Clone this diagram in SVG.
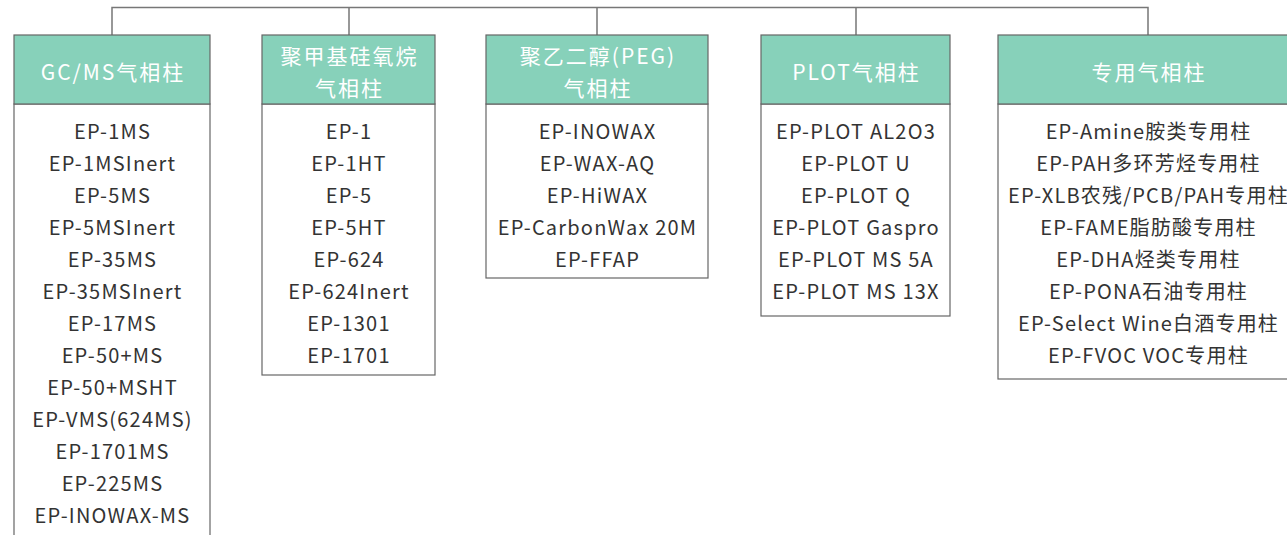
<svg xmlns="http://www.w3.org/2000/svg" width="1287" height="535" viewBox="0 0 1287 535">
<style>
.hd{fill:#87d1ba;stroke:#666;stroke-width:1.2}
.bd{fill:#fff;stroke:#666;stroke-width:1.2}
.ht{font-family:"Noto Sans CJK SC","Noto Sans",sans-serif;font-size:21px;letter-spacing:2px;fill:#fff;text-anchor:middle;dominant-baseline:central}
.it{font-family:"Noto Sans CJK SC","Noto Sans",sans-serif;font-size:20px;letter-spacing:1.2px;fill:#333;text-anchor:middle;dominant-baseline:central}
.cn{fill:none;stroke:#777;stroke-width:1.5}
</style>
<rect width="1287" height="535" fill="#fff"/>
<g id="connectors">
<path class="cn" d="M112,35V7.5H1148V35M349,7.5V35M597,7.5V35M856,7.5V35"/>
</g>
<g id="node-gcms">
<rect class="bd" x="14" y="104" width="196" height="440"/>
<rect class="hd" x="14" y="35" width="196" height="69"/>
<text class="ht" x="113" y="71">GC/MS气相柱</text>
<text class="it" x="112.5" y="130.5">EP-1MS</text>
<text class="it" x="112.5" y="162.5">EP-1MSInert</text>
<text class="it" x="112.5" y="194.5">EP-5MS</text>
<text class="it" x="112.5" y="226.5">EP-5MSInert</text>
<text class="it" x="112.5" y="258.5">EP-35MS</text>
<text class="it" x="112.5" y="290.5">EP-35MSInert</text>
<text class="it" x="112.5" y="322.5">EP-17MS</text>
<text class="it" x="112.5" y="354.5">EP-50+MS</text>
<text class="it" x="112.5" y="386.5">EP-50+MSHT</text>
<text class="it" x="112.5" y="418.5">EP-VMS(624MS)</text>
<text class="it" x="112.5" y="450.5">EP-1701MS</text>
<text class="it" x="112.5" y="482.5">EP-225MS</text>
<text class="it" x="112.5" y="514.5">EP-INOWAX-MS</text>
</g>
<g id="node-siloxane">
<rect class="bd" x="262" y="104" width="173" height="271"/>
<rect class="hd" x="262" y="35" width="173" height="69"/>
<text class="ht" x="349.5" y="55">聚甲基硅氧烷</text>
<text class="ht" x="349.5" y="87">气相柱</text>
<text class="it" x="349" y="130.5">EP-1</text>
<text class="it" x="349" y="162.5">EP-1HT</text>
<text class="it" x="349" y="194.5">EP-5</text>
<text class="it" x="349" y="226.5">EP-5HT</text>
<text class="it" x="349" y="258.5">EP-624</text>
<text class="it" x="349" y="290.5">EP-624Inert</text>
<text class="it" x="349" y="322.5">EP-1301</text>
<text class="it" x="349" y="354.5">EP-1701</text>
</g>
<g id="node-peg">
<rect class="bd" x="486" y="104" width="222" height="174"/>
<rect class="hd" x="486" y="35" width="222" height="69"/>
<text class="ht" x="598" y="55">聚乙二醇(PEG)</text>
<text class="ht" x="598" y="87">气相柱</text>
<text class="it" x="597.5" y="130.5">EP-INOWAX</text>
<text class="it" x="597.5" y="162.5">EP-WAX-AQ</text>
<text class="it" x="597.5" y="194.5">EP-HiWAX</text>
<text class="it" x="597.5" y="226.5">EP-CarbonWax 20M</text>
<text class="it" x="597.5" y="258.5">EP-FFAP</text>
</g>
<g id="node-plot">
<rect class="bd" x="761" y="104" width="189" height="212"/>
<rect class="hd" x="761" y="35" width="189" height="69"/>
<text class="ht" x="856.5" y="71">PLOT气相柱</text>
<text class="it" x="856" y="130.5">EP-PLOT AL2O3</text>
<text class="it" x="856" y="162.5">EP-PLOT U</text>
<text class="it" x="856" y="194.5">EP-PLOT Q</text>
<text class="it" x="856" y="226.5">EP-PLOT Gaspro</text>
<text class="it" x="856" y="258.5">EP-PLOT MS 5A</text>
<text class="it" x="856" y="290.5">EP-PLOT MS 13X</text>
</g>
<g id="node-special">
<rect class="bd" x="998" y="104" width="300" height="275"/>
<rect class="hd" x="998" y="35" width="300" height="69"/>
<text class="ht" x="1149" y="71">专用气相柱</text>
<text class="it" x="1148.5" y="130.5">EP-Amine胺类专用柱</text>
<text class="it" x="1148.5" y="162.5">EP-PAH多环芳烃专用柱</text>
<text class="it" x="1148.5" y="194.5">EP-XLB农残/PCB/PAH专用柱</text>
<text class="it" x="1148.5" y="226.5">EP-FAME脂肪酸专用柱</text>
<text class="it" x="1148.5" y="258.5">EP-DHA烃类专用柱</text>
<text class="it" x="1148.5" y="290.5">EP-PONA石油专用柱</text>
<text class="it" x="1148.5" y="322.5">EP-Select Wine白酒专用柱</text>
<text class="it" x="1148.5" y="354.5">EP-FVOC VOC专用柱</text>
</g>
</svg>
